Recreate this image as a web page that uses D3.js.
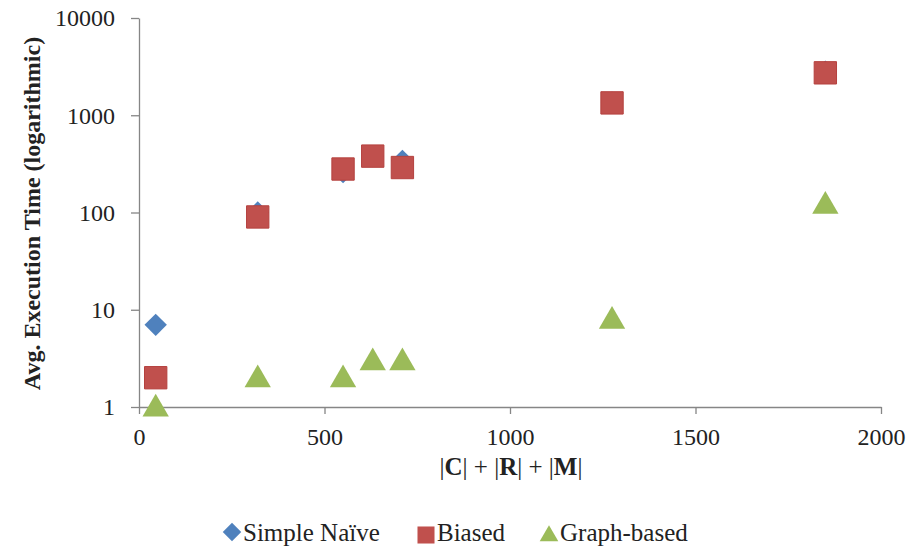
<!DOCTYPE html>
<html>
<head>
<meta charset="utf-8">
<script src="https://cdn.jsdelivr.net/npm/d3@7"></script>
<style>
  body { margin: 0; background: #fff; }
  text { font-family: "Liberation Serif", "Times New Roman", serif; fill: #222; }
</style>
</head>
<body>
<div id="chart"></div>
<script>
// data
const sizes = [45, 320, 550, 630, 710, 1275, 1850];
const naiveTimes = [7, 100, 260, 380, 340, 1350, 2800];
const biasedTimes = [2, 90, 280, 380, 290, 1340, 2730];
const graphTimes = [1, 2, 2, 3, 3, 8, 122];
const xTicks = [0, 500, 1000, 1500, 2000];
const yTicks = [1, 10, 100, 1000, 10000];

const series = [
  { name: "Simple Naïve", values: naiveTimes, color: "#4F81BD", shape: "diamond" },
  { name: "Biased", values: biasedTimes, color: "#C0504D", shape: "square" },
  { name: "Graph-based", values: graphTimes, color: "#9BBB59", shape: "triangle" }
];

const width = 912, height = 552;
const margin = { top: 18, right: 31, bottom: 145, left: 139 };
const innerW = width - margin.left - margin.right;
const innerH = height - margin.top - margin.bottom;

const svg = d3.select("#chart").append("svg")
  .attr("width", width)
  .attr("height", height);

const g = svg.append("g")
  .attr("transform", `translate(${margin.left},${margin.top})`);

const x = d3.scaleLinear().domain([0, 2000]).range([0, innerW]);
const y = d3.scaleLog().domain([1, 10000]).range([innerH, 0]);

const axisColor = "#868686";

const xAxis = g.append("g")
  .attr("transform", `translate(0,${innerH})`)
  .attr("font-family", null)
  .call(d3.axisBottom(x).tickValues(xTicks).tickSize(7).tickSizeOuter(0).tickFormat(d3.format("d")));
xAxis.selectAll("text")
  .attr("font-family", "Liberation Serif")
  .attr("font-size", 24)
  .attr("y", 0)
  .attr("dy", 38);

const yAxis = g.append("g")
  .attr("font-family", null)
  .call(d3.axisLeft(y).tickValues(yTicks).tickSize(8).tickSizeOuter(0).tickFormat(d3.format("d")));
yAxis.selectAll("text")
  .attr("font-family", "Liberation Serif")
  .attr("font-size", 24)
  .attr("x", -24)
  .attr("dy", "0.33em");

g.selectAll(".domain, .tick line").attr("stroke", axisColor).attr("stroke-width", 1.3);

const symbolFor = {
  diamond: d3.symbol().type(d3.symbolSquare).size(250),
  square: d3.symbol().type(d3.symbolSquare).size(500),
  triangle: d3.symbol().type(d3.symbolTriangle).size(300)
};

series.forEach((s) => {
  g.append("g").selectAll("path")
    .data(s.values.map((v, i) => ({ x: sizes[i], y: v })))
    .join("path")
    .attr("d", symbolFor[s.shape])
    .attr("transform", (d) => {
      let t = `translate(${x(d.x)},${y(d.y)})`;
      if (s.shape === "diamond") t += " rotate(45)";
      if (s.shape === "triangle") t += " translate(0,2)";
      return t;
    })
    .attr("fill", s.color)
    .attr("stroke", s.shape === "square" ? "#B5413E" : "none")
    .attr("stroke-width", 1);
});

// axis titles
svg.append("text")
  .attr("transform", `translate(40,${margin.top + innerH / 2 + 1}) rotate(-90)`)
  .attr("text-anchor", "middle")
  .attr("font-size", 24)
  .attr("font-weight", "bold")
  .text("Avg. Execution Time (logarithmic)");

const xTitle = svg.append("text")
  .attr("x", margin.left + innerW / 2 + 1)
  .attr("y", 475)
  .attr("text-anchor", "middle")
  .attr("font-size", 25);
["|", "C", "| + |", "R", "| + |", "M", "|"].forEach((part, i) => {
  xTitle.append("tspan")
    .attr("font-weight", i % 2 === 1 ? "bold" : "normal")
    .text(part);
});

// legend
const legend = svg.append("g").attr("transform", "translate(0,541)");
const legendItems = [
  { s: series[0], mx: 232, my: -9, tx: 243 },
  { s: series[1], mx: 426, my: -6, tx: 437 },
  { s: series[2], mx: 549, my: -5, tx: 560 }
];
legendItems.forEach(({ s, mx, my, tx }) => {
  const sym = s.shape === "diamond"
    ? d3.symbol().type(d3.symbolSquare).size(170)
    : s.shape === "square"
      ? d3.symbol().type(d3.symbolSquare).size(290)
      : d3.symbol().type(d3.symbolTriangle).size(150);
  legend.append("path")
    .attr("d", sym)
    .attr("transform", `translate(${mx},${my})` + (s.shape === "diamond" ? " rotate(45)" : ""))
    .attr("fill", s.color);
  legend.append("text")
    .attr("x", tx)
    .attr("y", 0)
    .attr("font-size", 25)
    .text(s.name);
});
</script>
</body>
</html>
